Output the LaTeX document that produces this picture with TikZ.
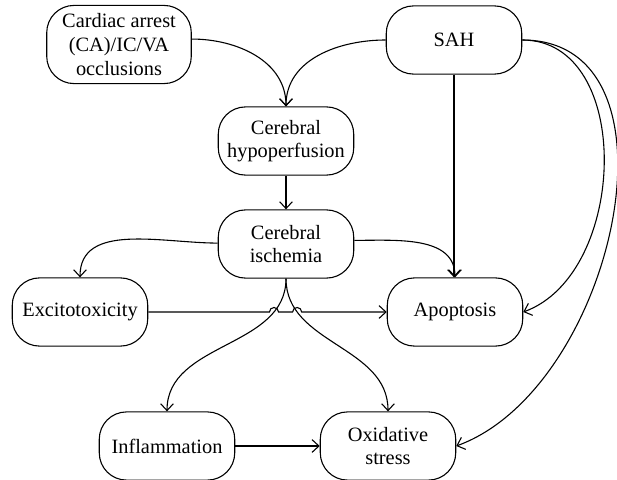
\documentclass[tikz,border=0pt]{standalone}
\usepackage{fontspec}
\setmainfont{Liberation Serif}
\usepackage{tikz}
\usetikzlibrary{arrows.meta,calc,intersections}

\begin{document}
\begin{tikzpicture}[x=0.55pt, y=0.55pt, >={Straight Barb[length=3.8pt,width=7pt]},
  box/.style={draw, line width=0.6pt, rounded corners=15pt, align=center, inner sep=2pt,
    minimum width=74.5pt, minimum height=37.5pt, font=\fontsize{11.2}{12.6}\selectfont},
  link/.style={->, line width=0.6pt}]

  \useasboundingbox (0,0) rectangle (617,479);

  % Boxes (y counted up from the bottom edge)
  \node[box, minimum width=79.5pt, minimum height=43pt, font=\fontsize{11.2}{13.2}\selectfont]
    (card) at (119,434.5) {Cardiac arrest\\(CA)/IC/VA\\occlusions};
  \node[box] (sah)  at (454,439) {SAH};
  \node[box] (hypo) at (286,338) {Cerebral\\hypoperfusion};
  \node[box] (isch) at (286,235) {Cerebral\\ischemia};
  \node[box] (exc)  at (80,167)  {Excitotoxicity};
  \node[box] (apop) at (455,167) {Apoptosis};
  \node[box] (infl) at (167,33)  {Inflammation};
  \node[box] (oxid) at (388,33)  {Oxidative\\stress};

  % Upper links
  \draw[link] ([yshift=3pt]card.east) to[out=0,in=90] (hypo.north);
  \draw[link] (sah.west) to[out=180,in=90] (hypo.north);
  \draw[link] (hypo) -- (isch);
  \draw[link] ([yshift=0.5pt]isch.west) to[out=180,in=90] (exc.north);
  \draw[link] ([yshift=2pt]isch.east) to[out=0,in=90] (apop.north);
  \draw[link] (sah.south) -- (sah.south |- apop.north);

  % Lower links, with hops where they cross
  \path[name path=hopline] (exc.east) -- (apop.west);
  \draw[link, name path=toinfl] (isch.south) to[out=-90,in=90] (infl.north);
  \draw[link, name path=tooxid] (isch.south) to[out=-90,in=90] (oxid.north);
  \path[name intersections={of=hopline and toinfl, by=hopL}];
  \path[name intersections={of=hopline and tooxid, by=hopR}];
  \draw[link] (exc.east) -- ([xshift=-2.5pt]hopL) arc[start angle=180,end angle=0,radius=2.5pt]
    -- ([xshift=-2.5pt]hopR) arc[start angle=180,end angle=0,radius=2.5pt] -- (apop.west);
  \draw[link] (infl) -- (oxid);

  % SAH on the right side
  \draw[link] (sah.east) to[out=0,in=20,looseness=1.05] (apop.east);
  \draw[link] (sah.east) to[out=0,in=20,looseness=1.05] (oxid.east);

\end{tikzpicture}
\end{document}
